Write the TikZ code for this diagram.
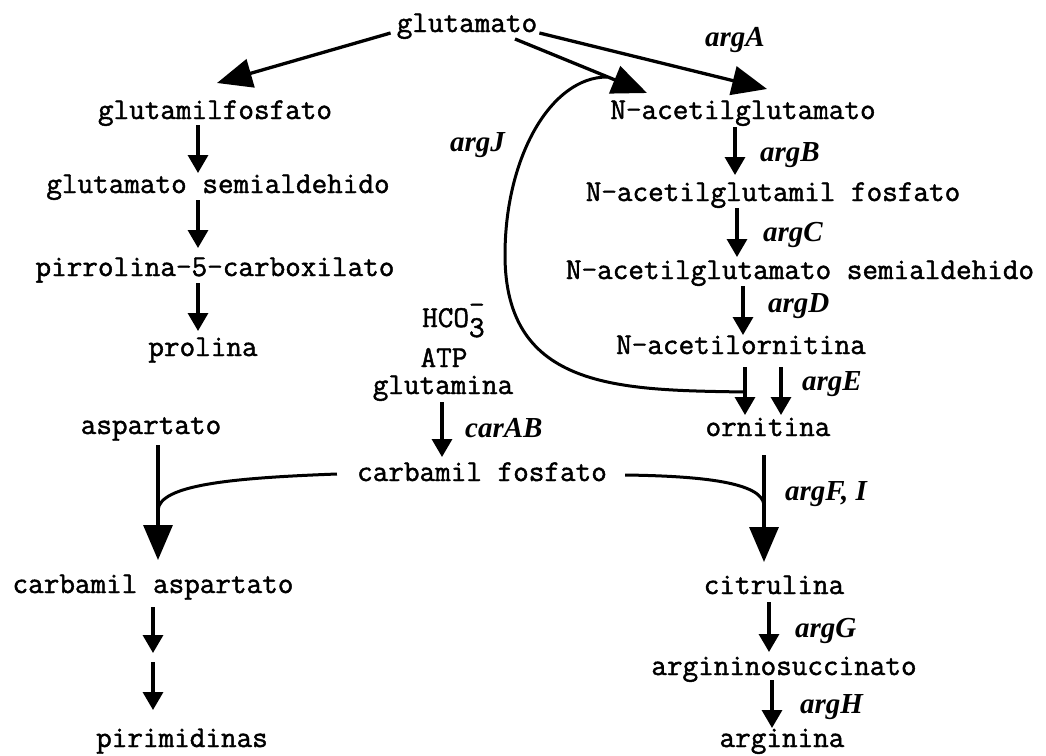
\documentclass[tikz,border=0pt]{standalone}
\usepackage{fontspec}
\newfontfamily\cour{Latin Modern Mono}[FakeBold=1.5]
\newfontfamily\labfont{Liberation Serif}
\usetikzlibrary{arrows.meta,calc}
\begin{document}
\begin{tikzpicture}[x=1pt,y=-1pt,
  txt/.style={font=\cour\fontsize{30.3}{33}\selectfont, inner sep=0pt, anchor=base},
  lab/.style={font=\labfont\bfseries\itshape\fontsize{29}{32}\selectfont, inner sep=0pt, anchor=base west},
  arr/.style={line width=3.3pt, -{Triangle[length=18pt,width=20pt]}},
  bigarr/.style={line width=3.3pt, -{Triangle[length=35pt,width=29pt]}},
  curve/.style={line width=3pt}]
\fill[white] (0,0) rectangle (1046,755);
\useasboundingbox (0,0) rectangle (1046,755);
% nodes
\node[txt] (glu) at (467,32) {glutamato};
\node[txt] (gf) at (215,119) {glutamilfosfato};
\node[txt] (gs) at (218,193) {glutamato semialdehido};
\node[txt] (pc) at (215,276) {pirrolina-5-carboxilato};
\node[txt] (pro) at (203,356) {prolina};
\node[txt] (asp) at (151,434) {aspartato};
\node[txt, anchor=base west] (hco) at (422,327) {HCO\rlap{\raisebox{13pt}{-}}\smash{\raisebox{-10pt}{3}}};
\node[txt] (atp) at (444,367) {ATP};
\node[txt] (gln) at (443,394) {glutamina};
\node[txt] (cf) at (482,481) {carbamil fosfato};
\node[txt] (ca) at (153,593) {carbamil aspartato};
\node[txt] (pir) at (182,747) {pirimidinas};
\node[txt] (nag) at (743,119) {N-acetilglutamato};
\node[txt] (nagp) at (773,201) {N-acetilglutamil fosfato};
\node[txt] (nags) at (800,279) {N-acetilglutamato semialdehido};
\node[txt] (nao) at (741,354) {N-acetilornitina};
\node[txt] (orn) at (768,436) {ornitina};
\node[txt] (cit) at (774,594) {citrulina};
\node[txt] (ags) at (784,675) {argininosuccinato};
\node[txt] (arg) at (782,747) {arginina};
% labels
\node[lab] (lA) at (705,46) {argA};
\node[lab] (lJ) at (450,151) {argJ};
\node[lab] (lB) at (760,161) {argB};
\node[lab] (lC) at (763,241) {argC};
\node[lab] (lD) at (768,312) {argD};
\node[lab] (lE) at (802,390) {argE};
\node[lab] (lcar) at (465,437) {carAB};
\node[lab] (lFI) at (785,500) {argF, I};
\node[lab] (lG) at (795,637) {argG};
\node[lab] (lH) at (800,713) {argH};
% helper coordinates
\coordinate (mid) at (153,657.5);
\coordinate (jtop) at (607,77);
\coordinate (jleft) at (505,255);
\coordinate (jend) at (745,392);
\coordinate (aspj) at (158,510);
\coordinate (citj) at (764,505);
% top arrows
\draw[bigarr] ($(glu.base west)+(-6,1)$) -- ($(gf.base)+(2,-36)$);
\draw[bigarr] ($(glu.base)+(48,7)$) -- ($(nag.base)+(-96,-26)$);
\draw[bigarr] ($(glu.base east)+(2,1)$) -- ($(nag.base)+(24,-30)$);
% proline branch
\draw[arr] ($(gf.base)+(-17,6)$) -- ($(gs.base)+(-20,-20)$);
\draw[arr] ($(gs.base)+(-20,7)$) -- ($(pc.base)+(-17,-28)$);
\draw[arr] ($(pc.base)+(-17,7)$) -- ($(pro.base)+(-5,-25)$);
% arginine branch
\draw[arr] ($(nag.base)+(-8,8)$) -- ($(nagp.base)+(-38,-26)$);
\draw[arr] ($(nagp.base)+(-36,7)$) -- ($(nags.base)+(-63,-22)$);
\draw[arr] ($(nags.base)+(-57,7)$) -- ($(nao.base)+(2,-19)$);
\draw[arr] ($(nao.base)+(4,13)$) -- ($(orn.base)+(-23,-21)$);
\draw[arr] ($(nao.base)+(40,13)$) -- ($(orn.base)+(13,-21)$);
\draw[bigarr] ($(orn.base)+(-4,19)$) -- ($(cit.base)+(-10,-32)$);
\draw[arr] ($(cit.base)+(-5,8)$) -- ($(ags.base)+(-15,-23)$);
\draw[arr] ($(ags.base)+(-12,5)$) -- ($(arg.base)+(-10,-19)$);
% argJ loop
\draw[curve] (jtop) .. controls (551,77) and (505,157) .. (jleft)
  .. controls (505,390) and (620,390) .. (jend);
% carbamil fosfato
\draw[arr] ($(gln.base)+(-1,8)$) -- ($(cf.base)+(-40,-24)$);
\draw[curve] ($(cf.base west)+(-20,-7)$) .. controls (230,478) and (160,485) .. (aspj);
\draw[curve] ($(cf.base east)+(18,-6)$) .. controls (700,476) and (762,482) .. (citj);
% pyrimidine branch
\draw[bigarr] ($(asp.base)+(7,11)$) -- ($(ca.base)+(5,-33)$);
\draw[arr, shorten >=4.5pt] ($(ca.base)+(0,14)$) -- (mid);
\draw[arr, shorten <=4.5pt] (mid) -- ($(pir.base)+(-29,-37)$);
\end{tikzpicture}
\end{document}
